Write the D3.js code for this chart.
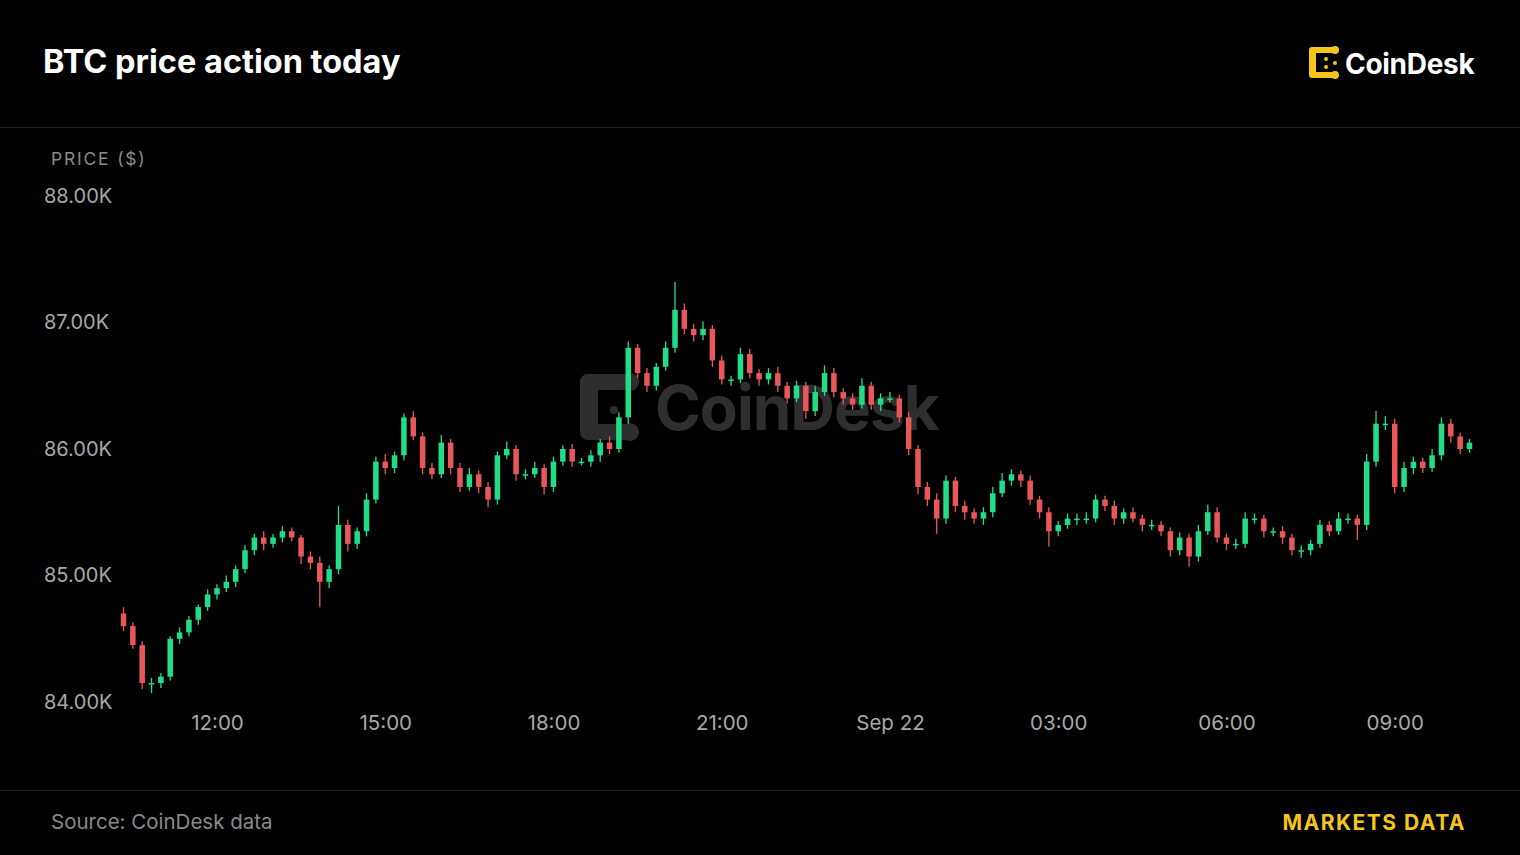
<!DOCTYPE html>
<html><head><meta charset="utf-8">
<script src="https://cdn.jsdelivr.net/npm/d3@7"></script>
<style>body{margin:0;background:#000;}svg{display:block;font-family:Inter,"Noto Sans",sans-serif;}</style>
</head><body><svg id="c" width="1520" height="855"></svg>
<script>
const startTime = "2025-09-21T10:20:00";
const stepMinutes = 10;
const openFirst = 84.7;
const closes = [84.6,84.45,84.15,84.15,84.2,84.5,84.55,84.65,84.75,84.85,
84.9,84.95,85.05,85.2,85.3,85.25,85.3,85.35,85.3,85.15,
85.1,84.95,85.05,85.4,85.25,85.35,85.6,85.9,85.85,85.95,
86.25,86.1,85.85,85.8,86.05,85.85,85.7,85.8,85.7,85.6,
85.95,86.0,85.8,85.8,85.85,85.7,85.9,86.0,85.9,85.9,
85.95,86.05,86.0,86.25,86.8,86.6,86.5,86.65,86.8,87.1,
86.95,86.9,86.95,86.7,86.55,86.55,86.75,86.6,86.55,86.6,
86.5,86.4,86.5,86.3,86.45,86.6,86.45,86.4,86.35,86.5,
86.35,86.4,86.4,86.25,86.0,85.7,85.6,85.45,85.75,85.55,
85.5,85.45,85.5,85.65,85.75,85.8,85.75,85.6,85.5,85.35,85.4,85.45,
85.45,85.45,85.6,85.55,85.45,85.5,85.45,85.4,85.4,85.35,
85.2,85.3,85.15,85.35,85.5,85.3,85.25,85.25,85.45,85.45,85.35,
85.35,85.3,85.2,85.2,85.25,85.4,85.35,85.45,85.45,85.4,85.9,
86.2,86.2,85.7,85.85,85.9,85.85,85.95,86.2,86.1,86.0,86.05];
const wickUp = [0.05,0.03,0.03,0.04,0.03,0.02,0.04,0.03,0.02,0.04,
0.03,0.05,0.03,0.04,0.03,0.05,0.03,0.04,0.03,0.02,
0.04,0.05,0.03,0.15,0.04,0.03,0.05,0.04,0.06,0.03,
0.03,0.05,0.03,0.04,0.06,0.03,0.04,0.05,0.03,0.04,
0.03,0.06,0.03,0.04,0.05,0.03,0.04,0.03,0.04,0.03,
0.04,0.03,0.05,0.04,0.05,0.03,0.04,0.03,0.05,0.22,
0.05,0.04,0.06,0.03,0.04,0.03,0.05,0.04,0.03,0.04,
0.05,0.03,0.04,0.03,0.05,0.06,0.04,0.03,0.04,0.06,
0.03,0.04,0.05,0.03,0.04,0.03,0.04,0.05,0.04,0.03,
0.04,0.03,0.04,0.05,0.06,0.04,0.03,0.04,0.03,0.04,0.03,0.04,
0.04,0.05,0.04,0.03,0.04,0.03,0.04,0.03,0.04,0.03,
0.03,0.04,0.03,0.05,0.06,0.04,0.03,0.04,0.05,0.04,0.03,
0.03,0.04,0.03,0.04,0.03,0.04,0.03,0.05,0.04,0.03,0.06,
0.1,0.06,0.04,0.05,0.04,0.03,0.05,0.05,0.04,0.03,0.03];
const wickDown = [0.04,0.03,0.05,0.08,0.04,0.03,0.04,0.03,0.04,0.03,
0.04,0.03,0.04,0.03,0.04,0.05,0.03,0.04,0.03,0.06,
0.05,0.2,0.05,0.04,0.06,0.04,0.04,0.03,0.05,0.04,
0.04,0.03,0.05,0.04,0.03,0.05,0.04,0.03,0.05,0.06,
0.04,0.03,0.05,0.04,0.03,0.06,0.04,0.03,0.04,0.03,
0.04,0.05,0.04,0.03,0.05,0.04,0.05,0.04,0.03,0.04,
0.04,0.05,0.04,0.05,0.04,0.05,0.03,0.04,0.05,0.04,
0.05,0.04,0.03,0.06,0.04,0.03,0.04,0.05,0.04,0.03,
0.04,0.05,0.03,0.04,0.05,0.06,0.05,0.12,0.04,0.05,
0.06,0.04,0.05,0.04,0.03,0.04,0.05,0.04,0.05,0.12,0.04,0.03,
0.05,0.04,0.03,0.04,0.05,0.04,0.03,0.05,0.04,0.04,
0.05,0.04,0.08,0.04,0.03,0.04,0.05,0.04,0.03,0.04,0.05,
0.04,0.05,0.04,0.06,0.04,0.03,0.04,0.03,0.04,0.12,0.04,
0.04,0.05,0.05,0.04,0.05,0.04,0.03,0.04,0.05,0.04,0.03];
const yTicks = [84,85,86,87,88];
const xTickTimes = ["2025-09-21T12:00","2025-09-21T15:00","2025-09-21T18:00","2025-09-21T21:00","2025-09-22T00:00","2025-09-22T03:00","2025-09-22T06:00","2025-09-22T09:00"];
const xTickLabels = ["12:00","15:00","18:00","21:00","Sep 22","03:00","06:00","09:00"];

const t0 = new Date(startTime);
const data = closes.map((c,i)=>{
  const o = i===0?openFirst:closes[i-1];
  return {t:new Date(t0.getTime()+i*stepMinutes*60000),o,c,h:Math.max(o,c)+wickUp[i],l:Math.min(o,c)-wickDown[i]};
});
const svg = d3.select("#c");
svg.append("rect").attr("width",1520).attr("height",855).attr("fill","#000");
svg.append("text").attr("x",43).attr("y",73).attr("fill","#fff").attr("font-size",32.5).attr("font-weight",700).attr("letter-spacing",0).text("BTC price action today");
svg.append("line").attr("x1",0).attr("x2",1520).attr("y1",127.5).attr("y2",127.5).attr("stroke","#222");
svg.append("line").attr("x1",0).attr("x2",1520).attr("y1",790.5).attr("y2",790.5).attr("stroke","#222");
const lg = svg.append("g").attr("transform","translate(1309,47)");
lg.append("path").attr("d","M3,0 H24 a3,3 0 0 1 0,6 H7 V25 H24 a3,3 0 0 1 0,6 H3 a3,3 0 0 1 -3,-3 V3 a3,3 0 0 1 3,-3Z").attr("fill","#f5c518");
lg.append("circle").attr("cx",26).attr("cy",3).attr("r",4).attr("fill","#f5c518");
lg.append("circle").attr("cx",26).attr("cy",28).attr("r",4).attr("fill","#f5c518");
lg.append("circle").attr("cx",17).attr("cy",12).attr("r",2).attr("fill","#f5c518");
lg.append("circle").attr("cx",17).attr("cy",20).attr("r",2).attr("fill","#f5c518");
lg.append("circle").attr("cx",26).attr("cy",16).attr("r",2).attr("fill","#f5c518");
svg.append("text").attr("x",1345).attr("y",74).attr("fill","#fff").attr("font-size",28).attr("font-weight",700).attr("letter-spacing",-0.3).text("CoinDesk");
const wm = svg.append("g").attr("transform","translate(580,374)").attr("fill","#2e2e2e");
wm.append("path").attr("d","M8,0 H48 a8,8 0 0 1 0,16 H18 V50 H48 a8,8 0 0 1 0,16 H8 a8,8 0 0 1 -8,-8 V8 a8,8 0 0 1 8,-8Z");
wm.append("circle").attr("cx",50).attr("cy",8).attr("r",9);
wm.append("circle").attr("cx",50).attr("cy",58).attr("r",9);
wm.append("circle").attr("cx",34).attr("cy",36).attr("r",4);
svg.append("text").attr("x",655).attr("y",430).attr("fill","#2e2e2e").attr("font-size",62).attr("font-weight",700).attr("letter-spacing",-1).text("CoinDesk");

const x = d3.scaleTime().domain([t0,new Date(t0.getTime()+(closes.length-1)*stepMinutes*60000)]).range([123.5,1469.5]);
const y = d3.scaleLinear().domain([84,88]).range([702,196]);
svg.append("text").attr("x",51).attr("y",165).attr("fill","#8a8a8a").attr("font-size",17.5).attr("letter-spacing",1.8).text("PRICE ($)");
const ya = svg.append("g").attr("transform","translate(44,0)").call(d3.axisRight(y).tickValues(yTicks).tickSize(0).tickFormat(d=>d3.format(".2f")(d)+"K"));
ya.select(".domain").remove();
ya.selectAll("text").attr("x",0).attr("fill","#a8a8a8").attr("font-size",20).attr("font-family","Inter,sans-serif");
const xt = xTickTimes.map(s=>new Date(s));
const xa = svg.append("g").attr("transform","translate(0,712)").call(d3.axisBottom(x).tickValues(xt).tickSize(0).tickFormat((d,i)=>xTickLabels[i]));
xa.select(".domain").remove();
xa.selectAll("text").attr("fill","#a8a8a8").attr("font-size",20.5).attr("font-family","Inter,sans-serif");
const green="#22dd88", red="#e8585a";
const g = svg.append("g");
const bw = 5.5;
g.selectAll("line.w").data(data).join("line").attr("x1",d=>x(d.t)).attr("x2",d=>x(d.t)).attr("y1",d=>y(d.h)).attr("y2",d=>y(d.l)).attr("stroke",d=>d.c>=d.o?green:red).attr("stroke-width",1.3);
g.selectAll("rect").data(data).join("rect").attr("x",d=>x(d.t)-bw/2).attr("width",bw).attr("y",d=>y(Math.max(d.o,d.c))).attr("height",d=>Math.max(1.5,Math.abs(y(d.o)-y(d.c)))).attr("fill",d=>d.c>=d.o?green:red);
svg.append("text").attr("x",51).attr("y",829).attr("fill","#8a8a8a").attr("font-size",20.5).attr("letter-spacing",0).text("Source: CoinDesk data");
svg.append("text").attr("x",1466).attr("y",830).attr("text-anchor","end").attr("fill","#f5c518").attr("font-size",21).attr("font-weight",700).attr("letter-spacing",1.5).text("MARKETS DATA");
</script></body></html>
